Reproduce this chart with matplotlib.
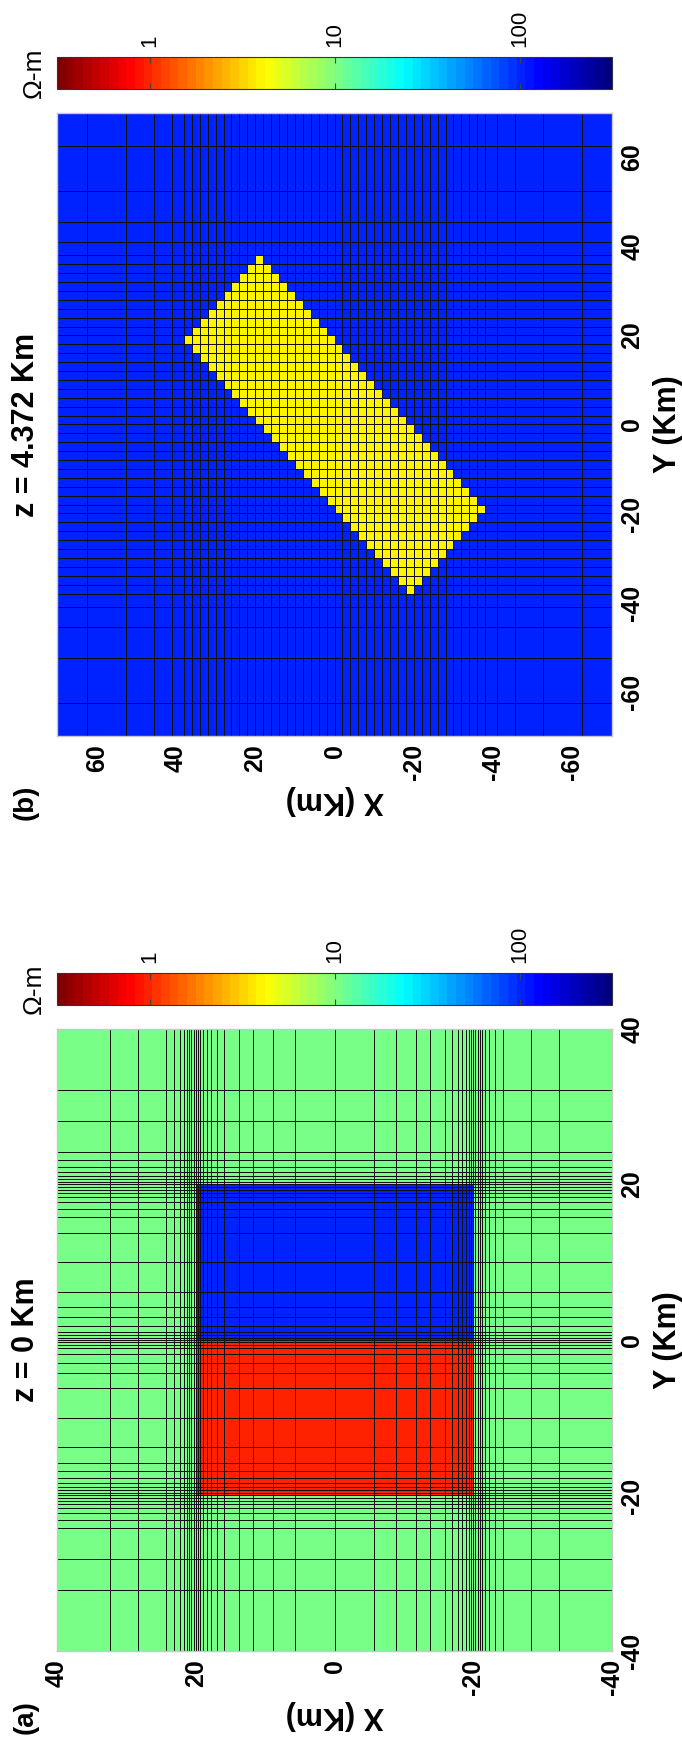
import numpy as np
import matplotlib
matplotlib.use("Agg")
import matplotlib.pyplot as plt
from matplotlib.colors import LogNorm, LinearSegmentedColormap
from matplotlib.ticker import NullLocator

plt.rcParams["font.family"] = ["Liberation Sans", "DejaVu Sans"]
plt.rcParams["axes.unicode_minus"] = False

# resistivities (ohm-m)
RHO_HOST_A = 10
RHO_CONDUCTOR_A = 1
RHO_RESISTOR_A = 100
RHO_HOST_B = 100
RHO_DYKE_B = 4

# mesh (a): node positions in km for the positive half, mirrored about zero
X_NODES_A = [0, 5.7, 8.9, 11.8, 13.8, 15.9, 16.9, 17.8, 18.4, 18.9, 19.35, 19.7,
             20, 20.3, 20.65, 21.0, 21.3, 21.7, 22.2, 23.2, 24.3, 28.3, 32.3, 40]
Y_NODES_A = [0, 0.3, 0.65, 1.0, 1.8, 3.0, 4.2, 6.2, 10.0, 13.8, 15.8, 16.8, 17.8,
             18.4, 18.9, 19.35, 19.7, 20, 20.3, 20.65, 21.1, 21.6,
             22.2, 23.2, 24.2, 28.2, 32.2, 40]
# blocks in (a): X from -20 to 20, resistor for Y in (0, 20), conductor for Y in (-20, 0)
BLOCK_HALF_X = 20
BLOCK_Y_TOP = 20

# mesh (b): same node layout in X and Y
XY_NODES_B = [0, 2, 4, 6, 8, 10, 12, 14, 16, 18, 20, 22, 24, 26, 28, 30, 32, 34, 36,
              38, 41, 45.6, 52.5, 62.5, 70]
# dyke in (b): rotated 45 degrees, half-length 40 km, half-width 13 km
DYKE_HALF_LENGTH = 40
DYKE_HALF_WIDTH = 13

TICKS_A = [40, 20, 0, -20, -40]
TICKS_B = [60, 40, 20, 0, -20, -40, -60]
CBAR_TICKS = [1, 10, 100]
RHO_MIN, RHO_MAX = 10 ** -0.5, 10 ** 2.5

TICK_SIZE = 18
LABEL_SIZE = 22
W, H = 682, 1744


def mirror(half):
    h = np.asarray(half, dtype=float)
    return np.concatenate([-h[:0:-1], h])


def centres(edges):
    return 0.5 * (edges[1:] + edges[:-1])


# model (a)
xe_a, ye_a = mirror(X_NODES_A), mirror(Y_NODES_A)
XA, YA = np.meshgrid(centres(xe_a), centres(ye_a))
rho_a = np.full(XA.shape, float(RHO_HOST_A))
inside = np.abs(XA) < BLOCK_HALF_X
rho_a[inside & (YA > 0) & (YA < BLOCK_Y_TOP)] = RHO_RESISTOR_A
rho_a[inside & (YA < 0) & (YA > -BLOCK_Y_TOP)] = RHO_CONDUCTOR_A

# model (b)
xe_b = ye_b = mirror(XY_NODES_B)
XB, YB = np.meshgrid(centres(xe_b), centres(ye_b))
u = (XB + YB) / np.sqrt(2)
v = (XB - YB) / np.sqrt(2)
rho_b = np.full(XB.shape, float(RHO_HOST_B))
rho_b[(np.abs(u) <= DYKE_HALF_LENGTH) & (np.abs(v) <= DYKE_HALF_WIDTH)] = RHO_DYKE_B

# MATLAB-style jet, reversed so that conductors are red, 64 levels
jet_ml = {
    "red": [(0, 0, 0), (3 / 8, 0, 0), (5 / 8, 1, 1), (7 / 8, 1, 1), (1, 0.5, 0.5)],
    "green": [(0, 0, 0), (1 / 8, 0, 0), (3 / 8, 1, 1), (5 / 8, 1, 1), (7 / 8, 0, 0), (1, 0, 0)],
    "blue": [(0, 0.5, 0.5), (1 / 8, 1, 1), (3 / 8, 1, 1), (5 / 8, 0, 0), (1, 0, 0)],
}
cmap = LinearSegmentedColormap("jet_ml", jet_ml, N=64).reversed()
norm = LogNorm(vmin=RHO_MIN, vmax=RHO_MAX)

fig = plt.figure(figsize=(W / 100, H / 100), dpi=100)
fig.set_facecolor("white")


def frac(px, py):
    return px / W, 1 - py / H


def panel(ax_box, cax_box, xe, ye, rho, lim, ticks, title, tag, tag_y):
    ax = fig.add_axes(ax_box)
    mesh = ax.pcolormesh(xe, ye, rho, cmap=cmap, norm=norm,
                         edgecolors="#111111", linewidth=0.55)
    ax.set_xlim(lim, -lim)
    ax.set_ylim(-lim, lim)
    labels = [str(t) for t in ticks]
    ax.set_xticks(ticks)
    ax.set_xticklabels(labels, rotation=90, ha="center", va="top",
                       fontsize=TICK_SIZE, fontweight="bold")
    ax.yaxis.tick_right()
    ax.yaxis.set_label_position("right")
    ax.set_yticks(ticks)
    ax.set_yticklabels(labels, rotation=90, ha="left", va="center",
                       fontsize=TICK_SIZE, fontweight="bold")
    ax.tick_params(length=0, pad=6)
    for s in ax.spines.values():
        s.set_color("#c8c8c8")
        s.set_linewidth(1)

    ax.set_xlabel("X (Km)", rotation=180, fontsize=LABEL_SIZE,
                  fontweight="bold", labelpad=3)
    ax.set_ylabel("Y (Km)", rotation=90, fontsize=LABEL_SIZE,
                  fontweight="bold", labelpad=6)
    ax.text(-0.056, 0.5, title, transform=ax.transAxes, rotation=90,
            ha="center", va="center", fontsize=LABEL_SIZE, fontweight="bold")

    # colourbar above the map
    cax = fig.add_axes(cax_box)
    cb = fig.colorbar(mesh, cax=cax, orientation="horizontal", ticks=CBAR_TICKS)
    cax.xaxis.set_minor_locator(NullLocator())
    cax.xaxis.set_ticks_position("top")
    cb.set_ticklabels([str(t) for t in CBAR_TICKS])
    cax.tick_params(axis="x", direction="in", length=4, width=0.8, color="#444444",
                    top=True, bottom=True, labeltop=True, labelbottom=False,
                    labelsize=16, labelrotation=90, pad=7)
    cb.outline.set_edgecolor("#333333")
    cb.outline.set_linewidth(0.8)
    cby = cax_box[1] + cax_box[3] / 2
    fig.text(34 / W, cby, "\u03a9-m", rotation=90, ha="center", va="center",
             fontsize=19)

    tx, ty = frac(26, tag_y)
    fig.text(tx, ty, tag, rotation=90, ha="center", va="center",
             fontsize=20, fontweight="bold")
    return ax


# panel (b) on top, panel (a) below
panel([57 / W, 1 - 736 / H, 555 / W, 623 / H], [57 / W, 1 - 89 / H, 555 / W, 32 / H],
      xe_b, ye_b, rho_b, 70, TICKS_B, "z = 4.372 Km", "(b)", 802)
panel([57 / W, 1 - 1651 / H, 555 / W, 622 / H], [57 / W, 1 - 1005 / H, 555 / W, 32 / H],
      xe_a, ye_a, rho_a, 40, TICKS_A, "z = 0 Km", "(a)", 1717)

fig.savefig("out.png", dpi=100)
